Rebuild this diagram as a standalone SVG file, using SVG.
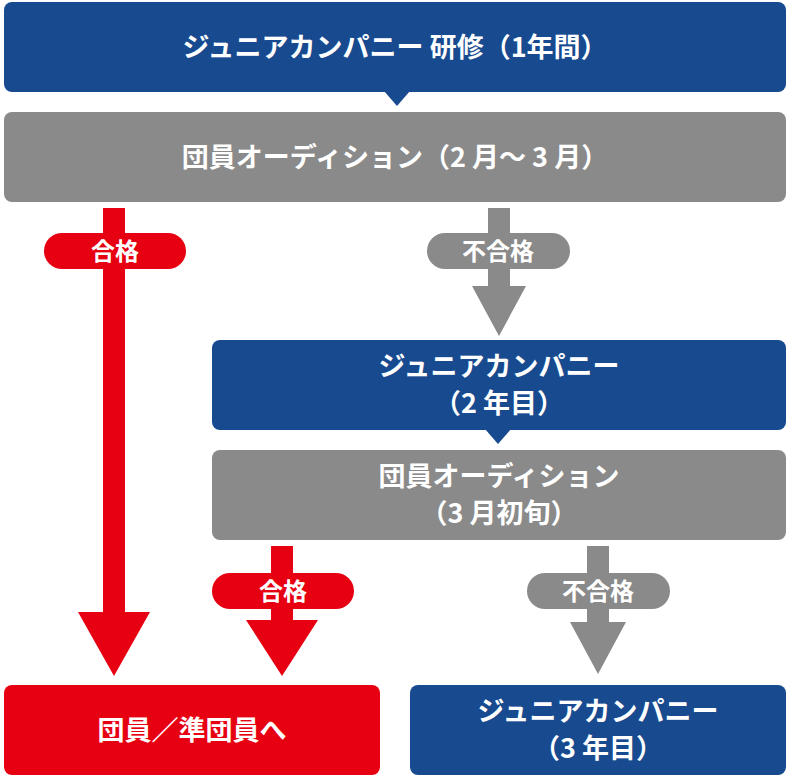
<svg xmlns="http://www.w3.org/2000/svg" width="792" height="784" viewBox="0 0 792 784">
<style>
.b{fill:#174a8f}.g{fill:#8a8a8a}.r{fill:#e60012}
text{font-family:"Noto Sans CJK JP","Noto Sans",sans-serif;font-weight:bold;fill:#fff;text-anchor:middle}
.t{font-size:27px}.p{font-size:24px}
</style>
<rect width="792" height="784" fill="#fff"/>
<g id="connectors">
<path class="r" d="M103 208H125V612H150L114 676L78 612H103Z"/>
<rect class="r" x="44" y="233" width="142" height="36" rx="18"/>
<text class="p" x="115" y="260">合格</text>
<path class="g" d="M488 208H510V286H526L499 336L472 286H488Z"/>
<rect class="g" x="427" y="233" width="143" height="36" rx="18"/>
<text class="p" x="498" y="260">不合格</text>
<path class="r" d="M271 546H293V620H318L282 676L246 620H271Z"/>
<rect class="r" x="212" y="573" width="142" height="36" rx="18"/>
<text class="p" x="283" y="600">合格</text>
<path class="g" d="M587 546H609V622H626L598 674L570 622H587Z"/>
<rect class="g" x="527" y="573" width="143" height="36" rx="18"/>
<text class="p" x="598" y="600">不合格</text>
</g>
<g id="n1"><rect class="b" x="4" y="2" width="782" height="90" rx="8"/><path class="b" d="M384 91H410L397 106Z"/>
<text class="t" x="395" y="57">ジュニアカンパニー 研修（1年間）</text></g>
<g id="n2"><rect class="g" x="4" y="112" width="782" height="90" rx="8"/>
<text class="t" x="395" y="167">団員オーディション（2 月～ 3 月）</text></g>
<g id="n3"><rect class="b" x="212" y="340" width="574" height="90" rx="8"/><path class="b" d="M485 429H511L498 444Z"/>
<text class="t" x="499" y="376">ジュニアカンパニー</text><text class="t" x="499" y="413">（2 年目）</text></g>
<g id="n4"><rect class="g" x="212" y="450" width="574" height="90" rx="8"/>
<text class="t" x="499" y="486">団員オーディション</text><text class="t" x="499" y="523">（3 月初旬）</text></g>
<g id="n5"><rect class="r" x="4" y="685" width="376" height="90" rx="8"/>
<text class="t" x="192" y="740">団員／準団員へ</text></g>
<g id="n6"><rect class="b" x="410" y="685" width="376" height="90" rx="8"/>
<text class="t" x="598" y="721">ジュニアカンパニー</text><text class="t" x="598" y="758">（3 年目）</text></g>
</svg>
